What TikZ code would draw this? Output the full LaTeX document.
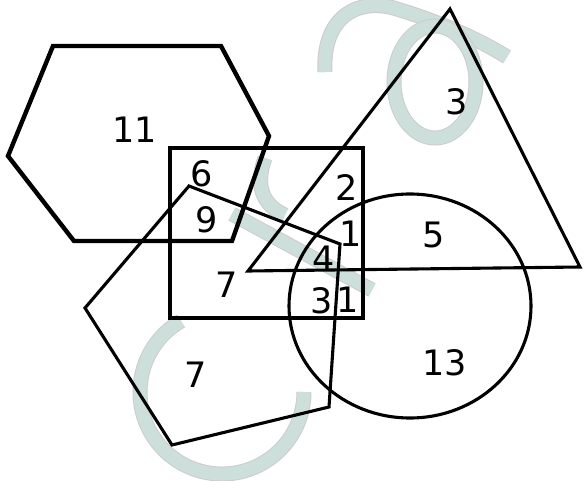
\documentclass[tikz,border=0pt]{standalone}
\usepackage{fontspec}
\newfontfamily\numfont{DejaVu Sans}
\usepackage{xcolor}
\definecolor{logoteal}{RGB}{205,223,218}

\begin{document}
\begin{tikzpicture}[x=1pt, y=-1pt,
  every node/.style={font=\numfont\fontsize{35}{40}\selectfont, inner sep=0pt},
  edge/.style     ={line width=3.1pt, line join=miter},
  thickedge/.style={line width=4.4pt, line join=miter},
  logo/.style     ={line width=1pt, draw=black!20, double=logoteal, double distance=13pt},
]
\useasboundingbox (0,0) rectangle (584,481);

% Watermark (behind)
\draw[logo] (325,72) .. controls (322,15) and (360,-4) .. (400,10)
            .. controls (440,22) and (480,40) .. (507,57);
\draw[logo] (435,82) circle[x radius=41, y radius=56];
\draw[logo] (265,158) .. controls (255,185) and (262,205) .. (285,215);
\draw[logo] (232,214) -- (372,290);
\draw[logo] (181,321) arc[start angle=240, end angle=0, radius=82];

% Shapes
\draw[thickedge] (53,46) -- (221,46) -- (269,136) -- (232,241) -- (74,241) -- (8,156) -- cycle;
\draw[edge] (170,148) rectangle (363,318);
\draw[edge] (450,9) -- (580,267) -- (248,271) -- cycle;
\draw[edge] (410,306) circle[x radius=121, y radius=112];
\draw[edge] (189,186) -- (340,244) -- (329,407) -- (172,445) -- (85,308) -- cycle;

% Region counts
\node (hx)  at (135,130) {11};
\node (sqA) at (202,174) {6};
\node (sqB) at (207,220) {9};
\node (sqC) at (227,285) {7};
\node (sqD) at (347,188) {2};
\node (sqE) at (351,234) {1};
\node (sqF) at (324,259) {4};
\node (sqG) at (322,301) {3};
\node (sqH) at (348,300) {1};
\node (tr)  at (457,102) {3};
\node (ciA) at (434,235) {5};
\node (ciB) at (445,363) {13};
\node (pe)  at (196,375) {7};

\end{tikzpicture}
\end{document}
